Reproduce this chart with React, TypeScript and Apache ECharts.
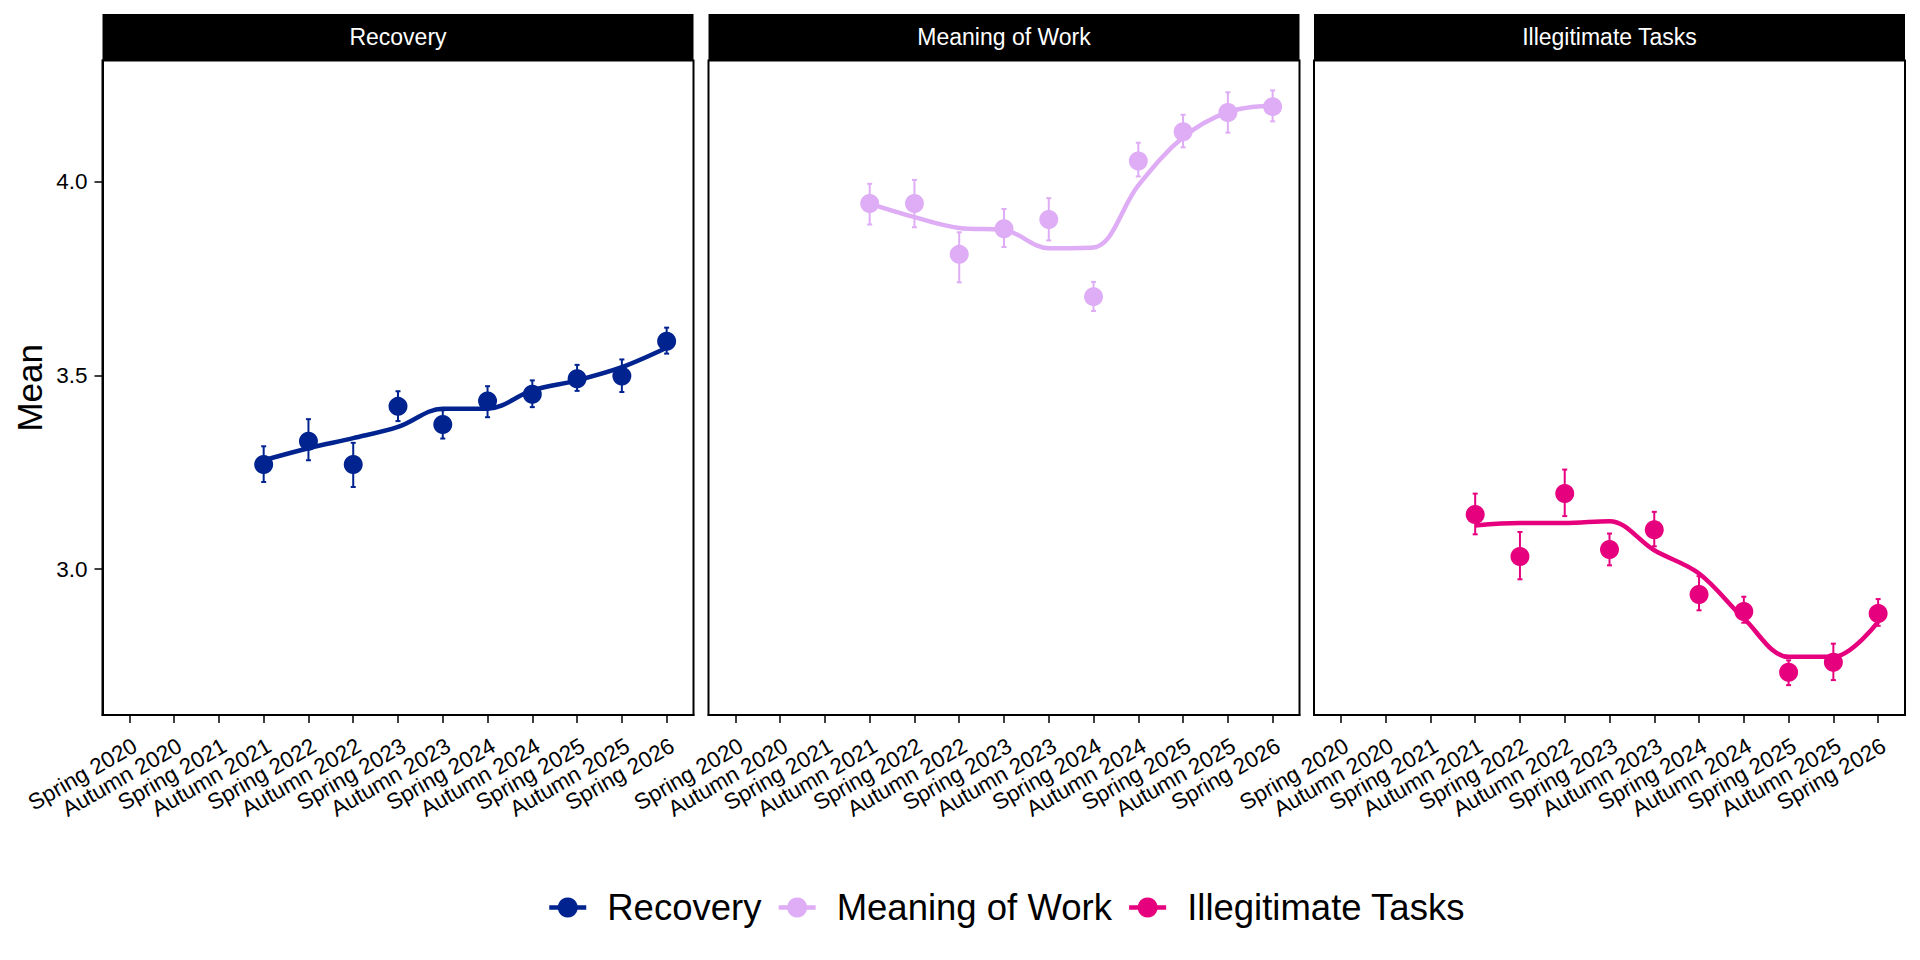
import React, { useEffect, useRef } from "react";
import * as echarts from "echarts";

// ---------- Data ----------
const categories = [
  "Spring 2020", "Autumn 2020", "Spring 2021", "Autumn 2021", "Spring 2022",
  "Autumn 2022", "Spring 2023", "Autumn 2023", "Spring 2024", "Autumn 2024",
  "Spring 2025", "Autumn 2025", "Spring 2026",
];

const facetNames = ["Recovery", "Meaning of Work", "Illegitimate Tasks"];
const facetColors = ["#00238F", "#DEADF5", "#E6007E"];

const recoveryMean = [null, null, null, 3.27, 3.33, 3.27, 3.42, 3.373, 3.434, 3.451, 3.491, 3.498, 3.588];
const recoveryLow = [null, null, null, 3.225, 3.281, 3.212, 3.382, 3.337, 3.392, 3.418, 3.46, 3.457, 3.556];
const recoveryHigh = [null, null, null, 3.317, 3.387, 3.326, 3.459, 3.41, 3.472, 3.487, 3.527, 3.541, 3.623];
const recoverySmooth = [null, null, null, 3.281, 3.312, 3.338, 3.367, 3.414, 3.414, 3.461, 3.487, 3.521, 3.571];

const meaningMean = [null, null, null, 3.943, 3.943, 3.812, 3.878, 3.902, 3.703, 4.053, 4.128, 4.178, 4.193];
const meaningLow = [null, null, null, 3.889, 3.882, 3.74, 3.831, 3.848, 3.666, 4.013, 4.088, 4.126, 4.155];
const meaningHigh = [null, null, null, 3.994, 4.004, 3.869, 3.929, 3.957, 3.741, 4.1, 4.172, 4.23, 4.235];
const meaningSmooth = [null, null, null, 3.943, 3.908, 3.88, 3.875, 3.828, 3.83, 3.99, 4.114, 4.179, 4.196];

const illegitMean = [null, null, null, 3.141, 3.033, 3.195, 3.051, 3.102, 2.935, 2.891, 2.734, 2.76, 2.886];
const illegitLow = [null, null, null, 3.09, 2.974, 3.137, 3.01, 3.059, 2.894, 2.862, 2.701, 2.714, 2.854];
const illegitHigh = [null, null, null, 3.195, 3.096, 3.257, 3.092, 3.148, 2.982, 2.929, 2.765, 2.808, 2.923];
const illegitSmooth = [null, null, null, 3.113, 3.119, 3.119, 3.124, 3.049, 2.989, 2.873, 2.774, 2.774, 2.864];

const yTicks = [3.0, 3.5, 4.0];

const means = [recoveryMean, meaningMean, illegitMean];
const lows = [recoveryLow, meaningLow, illegitLow];
const highs = [recoveryHigh, meaningHigh, illegitHigh];
const smooths = [recoverySmooth, meaningSmooth, illegitSmooth];

// ---------- Layout ----------
const FONT = "'Liberation Sans', Arial, sans-serif";
const PANEL_LEFTS = [102.5, 708.5, 1314];
const PANEL_W = 591;
const PANEL_TOP = 60.5;
const PANEL_BOTTOM = 715;
const STRIP_TOP = 14;
const Y_MIN = 2.624;
const Y_MAX = 4.312;
const X_MIN = -0.6;
const X_MAX = 12.6;

function pairs(arr: (number | null)[]) {
  const out: number[][] = [];
  arr.forEach((v, i) => {
    if (v !== null && v !== undefined) out.push([i, v]);
  });
  return out;
}

function errPairs(lo: (number | null)[], hi: (number | null)[]) {
  const out: number[][] = [];
  lo.forEach((v, i) => {
    const h = hi[i];
    if (v !== null && h !== null) out.push([i, v as number, h as number]);
  });
  return out;
}

function buildOption(): any {
  const tickIdx = categories.map((_, i) => i);
  // blank sentinel labels at the axis ends so ECharts' min/max overlap check
  // only touches these blanks, never the real labels
  const labelVals = [X_MIN, ...tickIdx, X_MAX];
  const grids = PANEL_LEFTS.map((left) => ({
    left,
    top: PANEL_TOP,
    width: PANEL_W,
    height: PANEL_BOTTOM - PANEL_TOP,
    show: true,
    borderColor: "#000",
    borderWidth: 2,
    backgroundColor: "#fff",
    containLabel: false,
  }));

  const xAxes = PANEL_LEFTS.map((_, gi) => ({
    type: "value",
    gridIndex: gi,
    min: X_MIN,
    max: X_MAX,
    axisLine: { show: true, onZero: false, lineStyle: { color: "#000", width: 2 } },
    axisTick: {
      show: true,
      customValues: tickIdx,
      length: 8,
      lineStyle: { color: "#000", width: 1.5 },
    },
    axisLabel: {
      show: true,
      customValues: labelVals,
      showMinLabel: false,
      showMaxLabel: false,
      hideOverlap: false,
      formatter: (v: number) =>
        Number.isInteger(v) ? categories[v] ?? "" : "",
      rotate: 30,
      align: "right",
      verticalAlign: "top",
      margin: 19,
      fontSize: 22.5,
      color: "#000",
      fontFamily: FONT,
    },
    splitLine: { show: false },
  }));

  const yAxes = PANEL_LEFTS.map((_, gi) => ({
    type: "value",
    gridIndex: gi,
    min: Y_MIN,
    max: Y_MAX,
    name: gi === 0 ? "Mean" : "",
    nameLocation: "middle",
    nameRotate: 90,
    nameGap: 56,
    nameTextStyle: { fontSize: 35, color: "#000", fontFamily: FONT },
    axisLine: { show: gi === 0, onZero: false, lineStyle: { color: "#000", width: 2 } },
    axisTick: {
      show: gi === 0,
      customValues: yTicks,
      length: 8,
      lineStyle: { color: "#000", width: 1.5 },
    },
    axisLabel: {
      show: gi === 0,
      customValues: yTicks,
      formatter: (v: number) => v.toFixed(1),
      margin: 15,
      fontSize: 22.5,
      color: "#000",
      fontFamily: FONT,
    },
    splitLine: { show: false },
  }));

  const series: any[] = [];
  facetNames.forEach((name, gi) => {
    const color = facetColors[gi];
    series.push({
      name,
      type: "line",
      xAxisIndex: gi,
      yAxisIndex: gi,
      data: pairs(smooths[gi]),
      smooth: 0.35,
      showSymbol: false,
      symbol: "circle",
      lineStyle: { color, width: 4.5 },
      itemStyle: { color },
      z: 3,
    });
    series.push({
      name,
      type: "custom",
      xAxisIndex: gi,
      yAxisIndex: gi,
      data: errPairs(lows[gi], highs[gi]),
      encode: { x: 0, y: [1, 2] },
      renderItem: (params: any, api: any) => {
        const x = api.value(0);
        const lo = api.coord([x, api.value(1)]);
        const hi = api.coord([x, api.value(2)]);
        const w = 2.5;
        const style = { stroke: color, lineWidth: 2 };
        return {
          type: "group",
          children: [
            { type: "line", shape: { x1: lo[0], y1: lo[1], x2: hi[0], y2: hi[1] }, style },
            { type: "line", shape: { x1: hi[0] - w, y1: hi[1], x2: hi[0] + w, y2: hi[1] }, style },
            { type: "line", shape: { x1: lo[0] - w, y1: lo[1], x2: lo[0] + w, y2: lo[1] }, style },
          ],
        };
      },
      z: 2,
    });
    series.push({
      name,
      type: "scatter",
      xAxisIndex: gi,
      yAxisIndex: gi,
      data: pairs(means[gi]),
      symbol: "circle",
      symbolSize: 19,
      itemStyle: { color, opacity: 1 },
      z: 4,
    });
  });

  const graphic: any[] = [];
  PANEL_LEFTS.forEach((left, gi) => {
    graphic.push({
      type: "rect",
      left,
      top: STRIP_TOP,
      shape: { x: 0, y: 0, width: PANEL_W, height: PANEL_TOP - STRIP_TOP },
      style: { fill: "#000" },
      z: 10,
    });
    graphic.push({
      type: "text",
      x: left + PANEL_W / 2,
      y: (STRIP_TOP + PANEL_TOP) / 2,
      style: {
        text: facetNames[gi],
        fill: "#fff",
        fontSize: 23,
        fontFamily: FONT,
        align: "center",
        verticalAlign: "middle",
      },
      z: 11,
    });
  });

  return {
    animation: false,
    backgroundColor: "#fff",
    textStyle: { fontFamily: FONT },
    grid: grids,
    xAxis: xAxes,
    yAxis: yAxes,
    series,
    graphic,
    legend: {
      data: facetNames,
      bottom: 29,
      left: 542,
      orient: "horizontal",
      selectedMode: false,
      itemWidth: 37,
      itemHeight: 25,
      itemGap: 15,
      lineStyle: { width: 4.5 },
      textStyle: { fontSize: 36.5, color: "#000", fontFamily: FONT, padding: [0, 0, 0, 16] },
    },
  };
}

export default function App() {
  const ref = useRef<HTMLDivElement>(null);
  useEffect(() => {
    document.body.style.margin = "0";
    document.body.style.overflow = "hidden";
    if (!ref.current) return;
    const chart = echarts.init(ref.current, undefined, { renderer: "svg" });
    chart.setOption(buildOption());
    return () => chart.dispose();
  }, []);
  return <div ref={ref} style={{ width: 1920, height: 960 }} />;
}
